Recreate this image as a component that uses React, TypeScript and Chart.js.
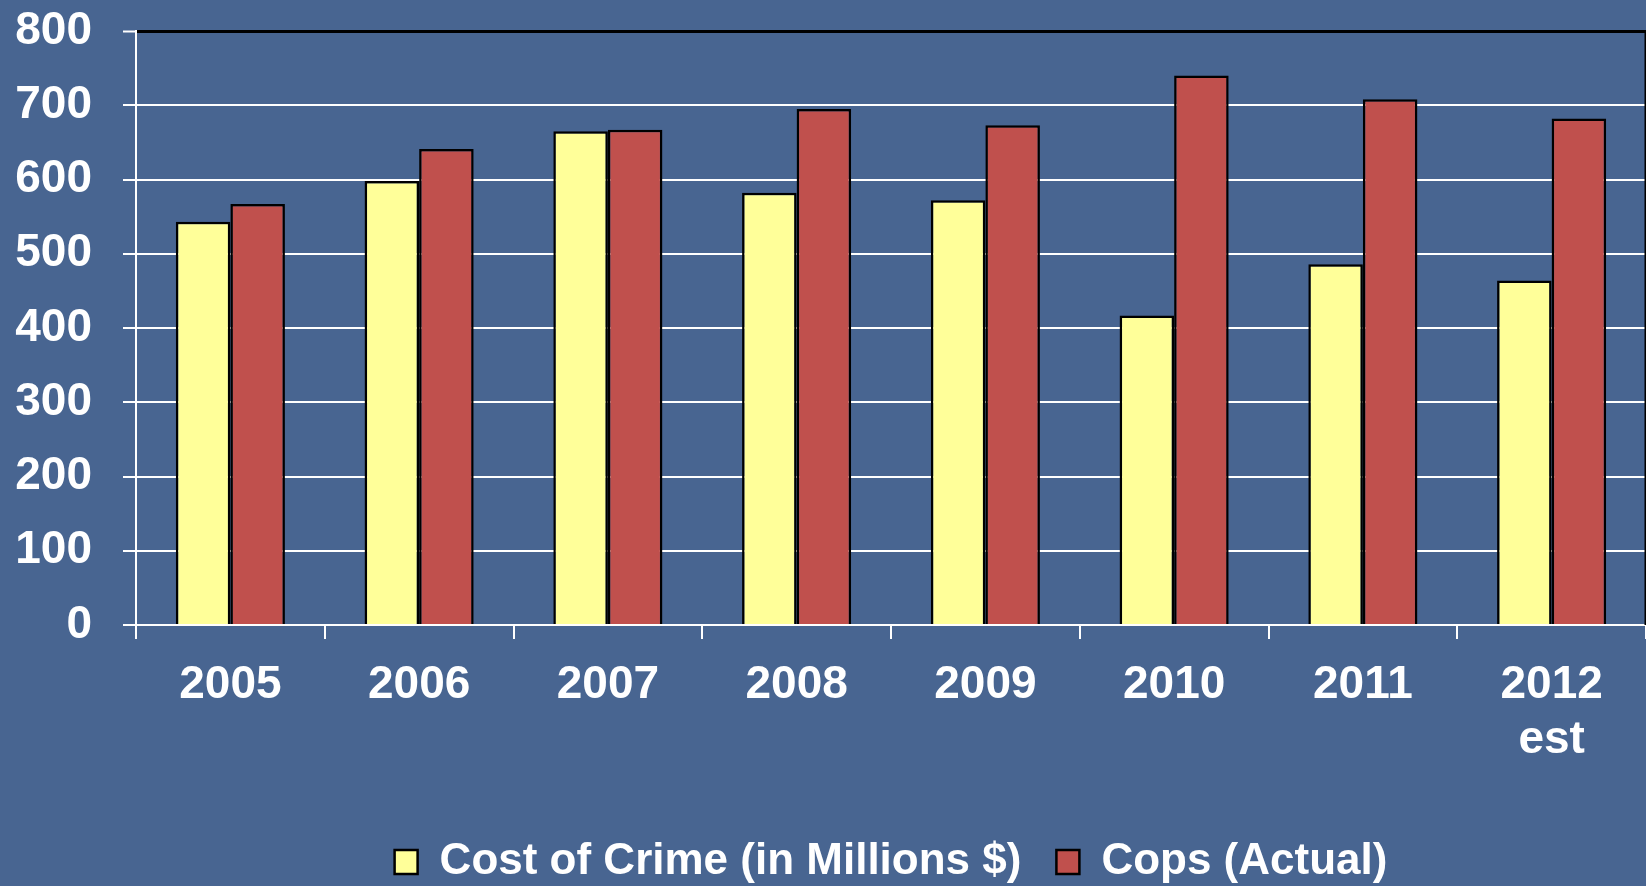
import React, { useEffect, useRef } from "react";
import { Chart, registerables } from "chart.js";

Chart.register(...registerables);

const categories: (string | string[])[] = ["2005", "2006", "2007", "2008", "2009", "2010", "2011", ["2012", "est"]];
const costOfCrime = [543, 598, 665, 582, 572, 417, 486, 464];
const copsActual = [567, 641, 667, 695, 673, 740, 708, 682];
const seriesNames = ["Cost of Crime (in Millions $)", "Cops (Actual)"];
const yMin = 0;
const yMax = 800;
const yStep = 100;

const BG = "#486591";
const FONT = "'Liberation Sans', Arial, Helvetica, sans-serif";

const framePlugin = {
  id: "frame",
  afterLayout(chart: any) {
    const lg = chart.legend;
    const area = chart.chartArea;
    if (lg && area) {
      const shift = 8;
      lg.top += shift;
      lg.bottom += shift;
      lg.left = area.left;
      lg.right = area.right;
    }
  },
  afterDatasetsDraw(chart: any) {
    const { ctx, chartArea } = chart;
    ctx.save();
    ctx.strokeStyle = "#000";
    ctx.lineWidth = 2;
    ctx.beginPath();
    ctx.moveTo(chartArea.right - 0.5, chartArea.top);
    ctx.lineTo(chartArea.right - 0.5, chartArea.bottom);
    ctx.stroke();
    ctx.restore();
  },
};

export default function App() {
  const ref = useRef<HTMLCanvasElement | null>(null);

  useEffect(() => {
    document.body.style.margin = "0";
    document.body.style.background = BG;
    if (!ref.current) return;
    const chart = new Chart(ref.current, {
      type: "bar",
      data: {
        labels: categories,
        datasets: [
          {
            label: seriesNames[0],
            data: costOfCrime,
            backgroundColor: "#FFFF99",
            borderColor: "#000000",
            borderWidth: 2.5,
            categoryPercentage: 0.578,
            barPercentage: 1.0,
          },
          {
            label: seriesNames[1],
            data: copsActual,
            backgroundColor: "#C0504D",
            borderColor: "#000000",
            borderWidth: 2.5,
            categoryPercentage: 0.578,
            barPercentage: 1.0,
          },
        ],
      },
      options: {
        animation: false,
        responsive: true,
        maintainAspectRatio: false,
        layout: { padding: { top: 31, left: 0, right: 0, bottom: 0 } },
        plugins: {
          tooltip: { enabled: false },
          legend: {
            position: "bottom",
            labels: {
              color: "#ffffff",
              boxWidth: 23,
              boxHeight: 24,
              padding: 35,
              font: { family: FONT, size: 44, weight: "bold" },
            },
          },
        },
        scales: {
          x: {
            offset: true,
            grid: {
              offset: true,
              drawOnChartArea: false,
              drawTicks: true,
              tickLength: 14,
              color: "#ffffff",
              lineWidth: 2,
            },
            border: { display: true, color: "#ffffff", width: 2 },
            ticks: {
              color: "#ffffff",
              padding: 19,
              maxRotation: 0,
              autoSkip: false,
              font: { family: FONT, size: 46, weight: "bold", lineHeight: 1.2 },
            },
            afterFit(scale: any) {
              scale.height = 172;
            },
          },
          y: {
            min: yMin,
            max: yMax,
            grid: {
              color: (c: any) => (c.tick && c.tick.value === yMax ? "#000000" : "#ffffff"),
              lineWidth: (c: any) => (c.tick && c.tick.value === yMax ? 3 : 2),
              tickColor: "#ffffff",
              tickWidth: 2,
              tickLength: 13,
              drawTicks: true,
            },
            border: { display: true, color: "#ffffff", width: 2 },
            ticks: {
              stepSize: yStep,
              color: "#ffffff",
              padding: 31,
              font: { family: FONT, size: 46, weight: "bold" },
            },
            afterFit(scale: any) {
              scale.width = 136;
              scale.paddingTop = 0;
              scale.paddingBottom = 0;
            },
          },
        },
      },
      plugins: [framePlugin],
    });
    return () => chart.destroy();
  }, []);

  return (
    <div style={{ position: "relative", width: 1646, height: 886, background: BG }}>
      <canvas ref={ref} />
    </div>
  );
}
